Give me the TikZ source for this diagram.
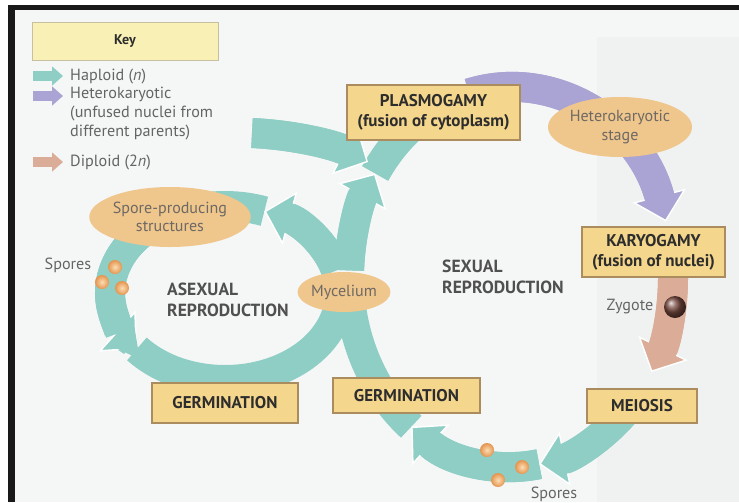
\documentclass[tikz,border=0pt]{standalone}
\usepackage{fontspec}
\setmainfont{PT Sans}
\usetikzlibrary{arrows.meta,calc,shapes.geometric}

\definecolor{hapl}{RGB}{143,206,196}
\definecolor{hetk}{RGB}{170,164,212}
\definecolor{dipl}{RGB}{219,172,152}
\definecolor{boxfill}{RGB}{244,214,140}
\definecolor{boxline}{RGB}{170,140,95}
\definecolor{ovalfill}{RGB}{239,198,140}
\definecolor{keyfill}{RGB}{249,240,182}
\definecolor{keyline}{RGB}{200,190,160}
\definecolor{paper}{RGB}{245,247,247}
\definecolor{panel}{RGB}{240,242,242}
\definecolor{greytext}{RGB}{100,100,100}
\definecolor{ovaltext}{RGB}{110,105,100}
\definecolor{sectext}{RGB}{80,80,80}
\definecolor{darktext}{RGB}{45,45,45}
\definecolor{sporein}{RGB}{252,222,180}
\definecolor{sporeout}{RGB}{228,148,78}
\definecolor{zygcol}{RGB}{120,75,65}

\tikzset{
  band/.style={draw=#1, line width=0.9cm,
    -{Triangle[length=0.8cm,width=1.65cm,line width=1.2pt,color=white,fill=#1]},
    postaction={draw=#1, line width=0.9cm, shorten >=0.7cm, -}},
  bandtail/.style={draw=#1, line width=0.9cm},
  keyarrow/.style={draw=#1, line width=0.3cm,
    -{Triangle[length=0.33cm,width=0.56cm,color=#1,fill=#1]}},
  stagebox/.style={draw=boxline, line width=0.9pt, fill=boxfill, text=darktext,
    align=center, inner sep=0pt, font=\bfseries\fontsize{14.5}{17}\selectfont},
  oval/.style={ellipse, fill=ovalfill, text=ovaltext, align=center, inner sep=0pt,
    font=\fontsize{13.7}{15.5}\selectfont},
  keytext/.style={text=greytext, align=left, inner sep=0pt,
    font=\fontsize{13.8}{16.2}\selectfont},
  section/.style={text=sectext, align=left, inner sep=0pt,
    font=\bfseries\fontsize{15}{18}\selectfont},
  spore/.style={circle, minimum size=0.42cm, inner sep=0pt, shading=radial,
    inner color=sporein, outer color=sporeout},
}

\begin{document}
\begin{tikzpicture}[x=0.03cm, y=-0.03cm]
  \useasboundingbox (0,0) rectangle (739,502);
  \fill[white] (0,0) rectangle (739,502);
  \fill[paper] (8,4.5) rectangle (739,502);
  \fill[panel] (597,37) rectangle (739,502);

  \coordinate (sx) at (511,277);   % centre of the sexual cycle
  \coordinate (ax) at (225,293);   % centre of the asexual cycle

  % asexual cycle, drawn against the flow
  \draw[bandtail=hapl] ($(ax)+(140:115 and 87)$) arc[start angle=140, end angle=0, x radius=115, y radius=87];
  \draw[band=hapl] ($(ax)+(232:115 and 87)$) arc[start angle=232, end angle=140, x radius=115, y radius=87];
  \draw[bandtail=hapl] ($(ax)+(290:115 and 87)$) arc[start angle=290, end angle=245, x radius=115, y radius=87];
  \draw[band=hapl] ($(ax)+(345:115 and 87)$) arc[start angle=345, end angle=290, x radius=115, y radius=87];

  % sexual cycle, drawn against the flow
  \draw[bandtail=hapl] ($(sx)+(128:162 and 190)$) arc[start angle=128, end angle=180, x radius=162, y radius=190];
  \draw[band=hapl] ($(sx)+(80:162 and 190)$) arc[start angle=80, end angle=128, x radius=162, y radius=190];
  \draw[band=hapl] ($(sx)+(45:162 and 190)$) arc[start angle=45, end angle=80, x radius=162, y radius=190];
  \draw[band=dipl] ($(sx)+(358:162 and 190)$) arc[start angle=358, end angle=390, x radius=162, y radius=190];
  \draw[band=hetk] ($(sx)+(255:162 and 190)$) arc[start angle=255, end angle=343, x radius=162, y radius=190];
  \draw[bandtail=hapl] ($(sx)+(213:162 and 190)$) arc[start angle=213, end angle=245, x radius=162, y radius=190];
  \draw[band=hapl] ($(sx)+(182:162 and 190)$) arc[start angle=182, end angle=213, x radius=162, y radius=190];
  \draw[band=hapl] (252,133) .. controls (295,135) and (335,145) .. (368,162);

  % stages
  \node[stagebox, minimum width=5.19cm, minimum height=1.65cm] (plasmo) at (433.5,112.5) {PLASMOGAMY\\(fusion of cytoplasm)};
  \node[stagebox, minimum width=4.29cm, minimum height=1.5cm] (karyo) at (653.5,252) {KARYOGAMY\\(fusion of nuclei)};
  \node[stagebox, minimum width=3.3cm, minimum height=1.02cm] (meiosis) at (642,406) {MEIOSIS};
  \node[stagebox, minimum width=4.41cm, minimum height=1.05cm] (germsex) at (406.5,395.5) {GERMINATION};
  \node[stagebox, minimum width=4.38cm, minimum height=1.2cm] (germasex) at (225,403) {GERMINATION};
  \node[oval, minimum width=4.32cm, minimum height=1.8cm] (hetstage) at (620,127) {Heterokaryotic\\stage};
  \node[oval, minimum width=4.2cm, minimum height=1.8cm] (sporestruct) at (170,217) {Spore-producing\\structures};
  \node[oval, minimum width=2.28cm, minimum height=1.2cm] (mycelium) at (344,292) {Mycelium};

  % key
  \node[draw=keyline, fill=keyfill, minimum width=5.58cm, minimum height=1.14cm, text=darktext,
    font=\bfseries\fontsize{12}{14}\selectfont] (key) at (125,41) {Key};
  \draw[keyarrow=hapl] (33,76) -- (63,76);
  \draw[keyarrow=hetk] (33,96) -- (63,96);
  \draw[keyarrow=dipl] (33,162) -- (63,162);
  \node[keytext, anchor=west] (haplabel) at (70,77) {Haploid (\textit{n})};
  \node[keytext, anchor=north west] (hetlabel) at (70,87) {Heterokaryotic\\(unfused nuclei from\\different parents)};
  \node[keytext, anchor=west] (diplabel) at (70,163) {Diploid (2\textit{n})};

  % labels
  \node[section, anchor=west] (sexlabel) at (442,277) {SEXUAL\\REPRODUCTION};
  \node[section, anchor=west] (asexlabel) at (167,300) {ASEXUAL\\REPRODUCTION};
  \node[keytext] (sporelabel) at (68,265) {Spores};
  \node[keytext] (sporelabelb) at (554,494) {Spores};
  \node[keytext] (zygotelabel) at (630,307) {Zygote};

  % spores and zygote
  \node[spore] (sporea) at (115,267) {};
  \node[spore] (sporeb) at (102,282) {};
  \node[spore] (sporec) at (122,288) {};
  \node[spore] (spored) at (487,450) {};
  \node[spore] (sporee) at (522,467) {};
  \node[spore] (sporef) at (498,480) {};
  \node[circle, minimum size=0.66cm, inner sep=0pt, shading=ball, ball color=zygcol] (zygote) at (675,307) {};

  % frame
  \fill[black!90] (8,4.5) rectangle (739,10);
  \fill[black!90] (8,4.5) rectangle (15,502);
\end{tikzpicture}
\end{document}
